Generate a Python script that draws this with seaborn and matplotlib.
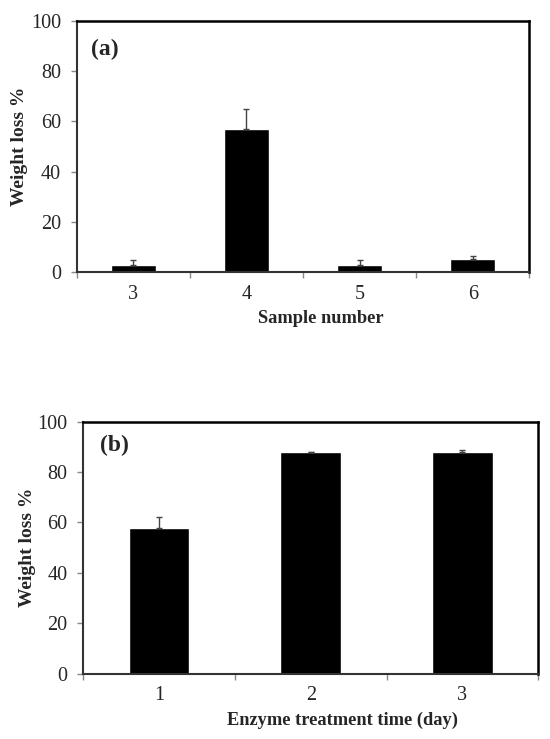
import numpy as np
import pandas as pd
import matplotlib
matplotlib.use("Agg")
import matplotlib.pyplot as plt
import seaborn as sns

# panel (a) data
samples = ["3", "4", "5", "6"]
loss_a = [3.1, 57.1, 3.1, 5.3]
err_a = [1.6, 7.7, 1.6, 1.1]

# panel (b) data
days = ["1", "2", "3"]
loss_b = [58.0, 87.8, 88.1]
err_b = [4.0, 0.2, 0.7]

sns.set_style("white")
plt.rcParams['font.family'] = ['Liberation Serif', 'DejaVu Serif']

fig = plt.figure(figsize=(5.5, 7.39), dpi=100)
ax_a = fig.add_axes([0.1395, 0.6315, 0.823, 0.3405])
ax_b = fig.add_axes([0.1515, 0.0884, 0.827, 0.341])


def panel(ax, cats, vals, errs, tag, tag_xy, xlabel, xlab_x, ylab_x):
    df = pd.DataFrame({"cat": cats, "val": vals})
    sns.barplot(data=df, x="cat", y="val", color="black", width=0.4,
                saturation=1, errorbar=None, ax=ax)
    n = len(cats)
    ax.errorbar(np.arange(n), vals, yerr=[np.zeros(n), errs], fmt="none",
                ecolor="#444444", elinewidth=1, capsize=2.5, capthick=1)
    ax.set_xlim(-0.5, n - 0.5)
    ax.set_ylim(0, 100)
    ax.set_yticks(range(0, 101, 20))
    ax.set_xticks(np.arange(n + 1) - 0.5)
    ax.set_xticklabels([])
    ax.set_xticks(np.arange(n), minor=True)
    ax.set_xticklabels(cats, minor=True)
    ax.tick_params(axis="x", which="major", direction="out", length=4.3,
                   width=1, color="#888888", bottom=True)
    ax.tick_params(axis="x", which="minor", length=0, pad=9, labelsize=14.5)
    ax.tick_params(axis="y", direction="out", length=4.3, width=1,
                   color="#888888", left=True, labelsize=14.5, pad=7)
    for s in ["top", "right"]:
        ax.spines[s].set_color("black")
        ax.spines[s].set_linewidth(1.8)
    for s in ["left", "bottom"]:
        ax.spines[s].set_color("#333333")
        ax.spines[s].set_linewidth(1.5)
    ax.set_ylabel("Weight loss %", fontsize=14, fontweight="bold")
    ax.set_xlabel(xlabel, fontsize=13.2, fontweight="bold")
    ax.xaxis.set_label_coords(xlab_x, -0.15)
    ax.yaxis.set_label_coords(ylab_x, 0.5)
    ax.text(tag_xy[0], tag_xy[1], tag, transform=ax.transAxes, fontsize=17,
            fontweight="bold", va="center", ha="left")


panel(ax_a, samples, loss_a, err_a, "(a)", (0.032, 0.884),
      "Sample number", 0.54, -0.1076)
panel(ax_b, days, loss_b, err_b, "(b)", (0.037, 0.905),
      "Enzyme treatment time (day)", 0.569, -0.104)

fig.savefig("out.png", dpi=100)
